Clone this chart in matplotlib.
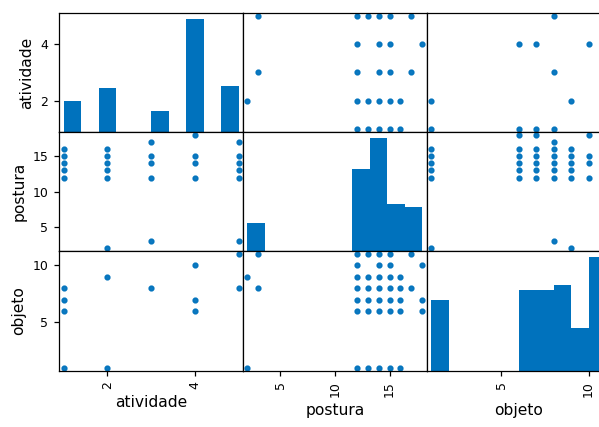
import matplotlib
matplotlib.use("Agg")
import matplotlib.pyplot as plt
import numpy as np

# ---- data ----
columns = ["atividade", "postura", "objeto"]

# value counts feeding the diagonal histograms
atividade_vals = [1, 2, 3, 4, 5]
atividade_counts = [12, 17, 8, 44, 18]
postura_vals = [2, 3, 12, 13, 14, 15, 16, 17, 18]
postura_counts = [4, 5, 15, 11, 36, 9, 6, 8, 6]
objeto_vals = [1, 6, 7, 8, 9, 10, 11]
objeto_counts = [15, 17, 17, 18, 9, 10, 14]

# observed (atividade, postura) pairs
ap_atividade = [1, 1, 1, 1, 1, 2, 2, 2, 2, 2, 2, 3, 3, 3, 3, 3, 4, 4, 4, 4, 5, 5, 5, 5, 5, 5]
ap_postura = [12, 13, 14, 15, 16, 2, 12, 13, 14, 15, 16, 3, 12, 14, 15, 17, 12, 14, 15, 18, 3, 12, 13, 14, 15, 17]
# observed (atividade, objeto) pairs
ao_atividade = [1, 1, 1, 1, 2, 2, 3, 4, 4, 4, 5, 5]
ao_objeto = [1, 6, 7, 8, 1, 9, 8, 6, 7, 10, 8, 11]
# observed (postura, objeto) pairs
po_objeto = [1] * 6 + [6] * 6 + [7] * 6 + [8] * 7 + [9] * 6 + [10] * 4 + [11] * 6
po_postura = ([2, 12, 13, 14, 15, 16] + [12, 13, 14, 15, 16, 18] + [12, 13, 14, 15, 16, 18]
              + [3, 12, 13, 14, 15, 16, 17] + [2, 12, 13, 14, 15, 16] + [12, 14, 15, 18]
              + [3, 12, 13, 14, 15, 17])

ticks = {"atividade": [2, 4], "postura": [5, 10, 15], "objeto": [5, 10]}

hist_data = {
    "atividade": (atividade_vals, atividade_counts),
    "postura": (postura_vals, postura_counts),
    "objeto": (objeto_vals, objeto_counts),
}
pair_data = {
    ("atividade", "postura"): (ap_atividade, ap_postura),
    ("atividade", "objeto"): (ao_atividade, ao_objeto),
    ("postura", "objeto"): (po_postura, po_objeto),
}


def get_pair(a, b):
    if (a, b) in pair_data:
        return pair_data[(a, b)]
    y, x = pair_data[(b, a)]
    return x, y


def bounds(name):
    v = hist_data[name][0]
    lo, hi = min(v), max(v)
    ext = (hi - lo) * 0.05 / 2
    return lo - ext, hi + ext


DPI = 112
fig = plt.figure(figsize=(599 / DPI, 427 / DPI), dpi=DPI)
W, H = 599.0, 427.0
left = 59.3 / W
bottom = (H - 370.5) / H
cw = 183.7 / W
ch = 119.2 / H
color = "#0072bd"

n = len(columns)
axes = [[None] * n for _ in range(n)]
for i, a in enumerate(columns):
    for j, b in enumerate(columns):
        ax = fig.add_axes([left + j * cw, bottom + (n - 1 - i) * ch, cw, ch])
        axes[i][j] = ax
        if i == j:
            vals, cnts = hist_data[a]
            ax.hist(vals, bins=10, weights=cnts, color=color)
            ax.set_xlim(bounds(a))
        else:
            x, y = get_pair(b, a)
            ax.scatter(x, y, marker=".", s=36, color=color, alpha=0.95, linewidths=1.0)
            ax.set_xlim(bounds(b))
            ax.set_ylim(bounds(a))
        ax.set_xlabel(b)
        ax.set_ylabel(a)
        ax.set_xticks(ticks[b])
        ax.set_yticks(ticks[a])
        if j != 0:
            ax.yaxis.set_visible(False)
        if i != n - 1:
            ax.xaxis.set_visible(False)

# remap y ticks of the first histogram to the atividade scale (as pandas does)
lim1 = bounds(columns[0])
locs = np.array(ticks[columns[0]], dtype=float)
adj = (locs - lim1[0]) / (lim1[1] - lim1[0])
lim0 = axes[0][0].get_ylim()
adj = adj * (lim0[1] - lim0[0]) + lim0[0]
axes[0][0].set_yticks(adj)
axes[0][0].set_yticklabels([str(int(v)) for v in locs])

for row in axes:
    for ax in row:
        for lbl in ax.get_xticklabels():
            lbl.set_fontsize(8)
            lbl.set_rotation(90)
        for lbl in ax.get_yticklabels():
            lbl.set_fontsize(8)
            lbl.set_rotation(0)

fig.savefig("out.png", dpi=DPI)
